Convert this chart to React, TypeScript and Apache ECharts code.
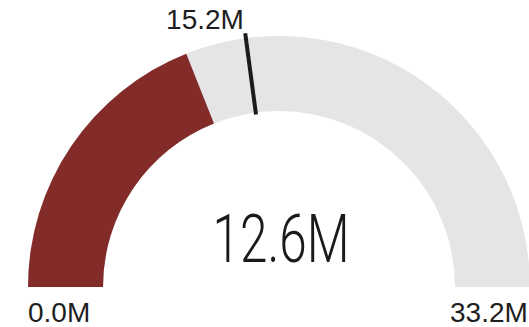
import React, { useEffect, useRef } from "react";
import * as echarts from "echarts";

const gaugeMin = [0];
const gaugeMax = [33.2];
const actualValue = [12.6];
const targetValue = [15.2];

const RED = "#822b28";
const GREY = "#e5e5e5";
const fmt = (v: number) => `${v.toFixed(1)}M`;

export default function App() {
  const ref = useRef<HTMLDivElement>(null);
  useEffect(() => {
    if (!ref.current) return;
    const chart = echarts.init(ref.current, undefined, { renderer: "svg" });
    const center = [279, 287];
    const R = 251;
    const band = 75;
    const labelFont = "'Liberation Sans', Arial, sans-serif";
    const common = {
      type: "gauge",
      center,
      radius: R,
      startAngle: 180,
      endAngle: 0,
      min: gaugeMin[0],
      max: gaugeMax[0],
      axisTick: { show: false },
      splitLine: { show: false },
      axisLabel: { show: false },
      title: { show: false },
      anchor: { show: false },
    };
    chart.setOption({
      animation: false,
      series: [
        {
          ...common,
          progress: { show: true, width: band, roundCap: false, itemStyle: { color: RED } },
          axisLine: { roundCap: false, lineStyle: { width: band, color: [[1, GREY]] } },
          pointer: { show: false },
          detail: { show: false },
          data: actualValue.map((v) => ({ value: v })),
        },
        {
          ...common,
          progress: { show: false },
          axisLine: { show: false },
          pointer: {
            show: true,
            icon: "rect",
            length: 82,
            width: 4,
            offsetCenter: [0, -174],
            itemStyle: { color: "#1c1a1b" },
          },
          detail: {
            show: true,
            offsetCenter: [-74, -268],
            formatter: (v: number) => fmt(v),
            fontSize: 28,
            fontWeight: "normal",
            lineHeight: 30,
            padding: 0,
            width: 120,
            color: "#1e1e1e",
            fontFamily: labelFont,
          },
          data: targetValue.map((v) => ({ value: v })),
        },
      ],
      graphic: [
        {
          type: "text",
          x: 281,
          y: 239,
          scaleX: 0.75,
          style: {
            text: fmt(actualValue[0]),
            fontSize: 66,
            fontWeight: 300,
            fontFamily: "Roboto, sans-serif",
            fill: "#1a1a1a",
            align: "center",
            verticalAlign: "middle",
          },
        },
        {
          type: "text",
          x: 28,
          y: 312,
          style: {
            text: fmt(gaugeMin[0]),
            fontSize: 28,
            fontFamily: labelFont,
            fill: "#1e1e1e",
            align: "left",
            verticalAlign: "middle",
          },
        },
        {
          type: "text",
          x: 450,
          y: 312,
          style: {
            text: fmt(gaugeMax[0]),
            fontSize: 28,
            fontFamily: labelFont,
            fill: "#1e1e1e",
            align: "left",
            verticalAlign: "middle",
          },
        },
      ],
    } as any);
    return () => chart.dispose();
  }, []);
  return (
    <div
      ref={ref}
      style={{ position: "fixed", left: 0, top: 0, width: 529, height: 327, background: "#fff" }}
    />
  );
}
